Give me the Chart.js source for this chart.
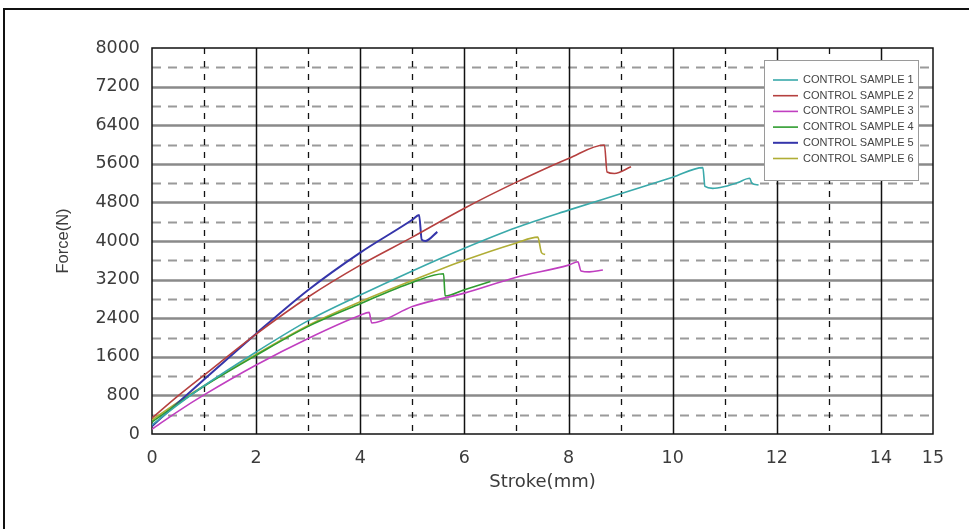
<!DOCTYPE html>
<html>
<head>
<meta charset="utf-8">
<script src="https://cdn.jsdelivr.net/npm/chart.js@4.4.1/dist/chart.umd.min.js"></script>
<style>
    html, body { margin: 0; padding: 0; background: #fff; }
    #wrap { position: relative; width: 969px; height: 529px; overflow: hidden; }
    #frame {
        position: absolute; left: 3px; top: 8px; width: 1000px; height: 600px;
        border-top: 2px solid #111; border-left: 2px solid #111; pointer-events: none;
    }
</style>
</head>
<body>
<div id="wrap">
    <canvas id="forceChart" width="969" height="529"></canvas>
    <div id="frame"></div>
</div>
<script>
// -----------------------------
// Data
// -----------------------------
const sampleLabels = ['CONTROL SAMPLE 1', 'CONTROL SAMPLE 2', 'CONTROL SAMPLE 3',
                      'CONTROL SAMPLE 4', 'CONTROL SAMPLE 5', 'CONTROL SAMPLE 6'];
const sampleColors = ['#3aa9aa', '#b5403f', '#c03fc0', '#2f9c2f', '#3535aa', '#b0ad35'];
const sampleWidths = [1.6, 1.6, 1.6, 1.6, 2, 1.6];

const stroke1 = [0, 0.5, 1, 2, 3, 4, 5, 6, 7, 8, 9, 10, 10.58, 10.62, 10.77, 11, 11.25, 11.48, 11.52, 11.65];
const force1  = [190, 610, 1000, 1700, 2350, 2880, 3380, 3850, 4280, 4640, 4980, 5320, 5520, 5130, 5090, 5130, 5210, 5300, 5200, 5160];

const stroke2 = [0, 0.5, 1, 2, 3, 4, 5, 6, 7, 8, 8.69, 8.74, 8.88, 9.2];
const force2  = [330, 790, 1220, 2070, 2840, 3500, 4080, 4680, 5220, 5710, 5990, 5430, 5400, 5540];

const stroke3 = [0, 0.5, 1, 2, 3, 4, 4.17, 4.22, 4.4, 5, 6, 7, 8, 8.18, 8.24, 8.4, 8.66];
const force3  = [100, 470, 810, 1430, 1980, 2460, 2520, 2300, 2340, 2640, 2920, 3250, 3500, 3570, 3380, 3360, 3400];

const stroke4 = [0, 0.5, 1, 2, 3, 4, 5, 5.6, 5.63, 6, 6.5];
const force4  = [250, 630, 990, 1630, 2230, 2700, 3140, 3320, 2860, 2990, 3160];

const stroke5 = [0, 0.5, 1, 2, 3, 4, 5, 5.13, 5.18, 5.25, 5.48];
const force5  = [160, 650, 1130, 2080, 2985, 3760, 4440, 4540, 4030, 4000, 4190];

const stroke6 = [0, 0.5, 1, 2, 3, 4, 5, 6, 7, 7.41, 7.48, 7.55];
const force6  = [290, 660, 1000, 1650, 2250, 2740, 3180, 3600, 3960, 4080, 3760, 3720];

const strokeTicks = [0, 2, 4, 6, 8, 10, 12, 14, 15];

const strokes = [stroke1, stroke2, stroke3, stroke4, stroke5, stroke6];
const forces  = [force1, force2, force3, force4, force5, force6];

// -----------------------------
// Paper-style grid, frame and boxed legend
// -----------------------------
const paperPlugin = {
    id: 'paper',
    beforeDatasetsDraw(chart) {
        const { ctx, chartArea: a, scales: { x, y } } = chart;
        ctx.save();

        // horizontal lines: solid grey every 800, dashed grey in between
        for (let v = 400; v < 8000; v += 400) {
            const py = Math.round(y.getPixelForValue(v)) + 0.5;
            const major = v % 800 === 0;
            ctx.beginPath();
            ctx.strokeStyle = major ? '#8a8a8a' : '#9a9a9a';
            ctx.lineWidth = major ? 2.5 : 2;
            ctx.setLineDash(major ? [] : [9, 7]);
            ctx.moveTo(a.left, py);
            ctx.lineTo(a.right, py);
            ctx.stroke();
        }

        // vertical lines: solid black on even mm, dashed on odd mm
        for (let v = 1; v < 15; v++) {
            const px = Math.round(x.getPixelForValue(v)) + 0.5;
            const major = v % 2 === 0;
            ctx.beginPath();
            ctx.strokeStyle = '#111';
            ctx.lineWidth = major ? 1.5 : 1.3;
            ctx.setLineDash(major ? [] : [6, 7]);
            ctx.moveTo(px, a.top);
            ctx.lineTo(px, a.bottom);
            ctx.stroke();
        }

        ctx.setLineDash([]);
        ctx.strokeStyle = '#111';
        ctx.lineWidth = 1.5;
        ctx.strokeRect(a.left, a.top, a.right - a.left, a.bottom - a.top);
        ctx.restore();
    },
    afterDatasetsDraw(chart) {
        const { ctx, chartArea: a } = chart;
        const w = 154, h = 120;
        const left = a.right - 15 - w, top = a.top + 12;

        ctx.save();
        ctx.fillStyle = '#fff';
        ctx.fillRect(left, top, w, h);
        ctx.strokeStyle = '#9a9a9a';
        ctx.lineWidth = 1;
        ctx.strokeRect(left + 0.5, top + 0.5, w, h);

        ctx.font = '11px "Liberation Sans", Arial, sans-serif';
        ctx.textBaseline = 'middle';
        ctx.fillStyle = '#444';
        chart.data.datasets.forEach((ds, i) => {
            const ry = top + 20 + i * 15.7;
            ctx.beginPath();
            ctx.strokeStyle = ds.borderColor;
            ctx.lineWidth = ds.borderWidth;
            ctx.moveTo(left + 9, ry);
            ctx.lineTo(left + 34, ry);
            ctx.stroke();
            ctx.fillText(ds.label, left + 39, ry);
        });
        ctx.restore();
    }
};

const datasets = sampleLabels.map((label, i) => ({
    label: label,
    data: strokes[i].map((s, k) => ({ x: s, y: forces[i][k] })),
    borderColor: sampleColors[i],
    backgroundColor: sampleColors[i],
    borderWidth: sampleWidths[i],
    pointRadius: 0,
    cubicInterpolationMode: 'monotone',
    fill: false
}));

const tickFont = { family: '"DejaVu Sans", sans-serif', size: 17.5 };

new Chart(document.getElementById('forceChart').getContext('2d'), {
    type: 'line',
    data: { datasets },
    plugins: [paperPlugin],
    options: {
        responsive: false,
        animation: false,
        layout: { padding: { left: 50, top: 48, right: 36, bottom: 34 } },
        plugins: {
            legend: { display: false },
            tooltip: { enabled: false }
        },
        scales: {
            x: {
                type: 'linear',
                min: 0,
                max: 15,
                grid: { display: false, drawTicks: false },
                border: { display: false },
                afterBuildTicks: scale => { scale.ticks = strokeTicks.map(v => ({ value: v })); },
                afterFit: scale => { scale.height = 61; },
                ticks: { color: '#3c3c3c', font: tickFont, padding: 14, maxRotation: 0, autoSkip: false },
                title: {
                    display: true,
                    text: 'Stroke(mm)',
                    color: '#3c3c3c',
                    font: { family: '"DejaVu Sans", sans-serif', size: 18 },
                    padding: { top: 0, bottom: 2 }
                }
            },
            y: {
                min: 0,
                max: 8000,
                grid: { display: false, drawTicks: false },
                border: { display: false },
                afterFit: scale => { scale.width = 102; },
                ticks: {
                    stepSize: 800,
                    color: '#3c3c3c',
                    font: tickFont,
                    padding: 12,
                    callback: value => String(value)
                },
                title: {
                    display: true,
                    text: 'Force(N)',
                    color: '#3c3c3c',
                    font: { family: '"Liberation Sans", Arial, sans-serif', size: 16.5 },
                    padding: { top: 4, bottom: 0 }
                }
            }
        }
    }
});
</script>
</body>
</html>
